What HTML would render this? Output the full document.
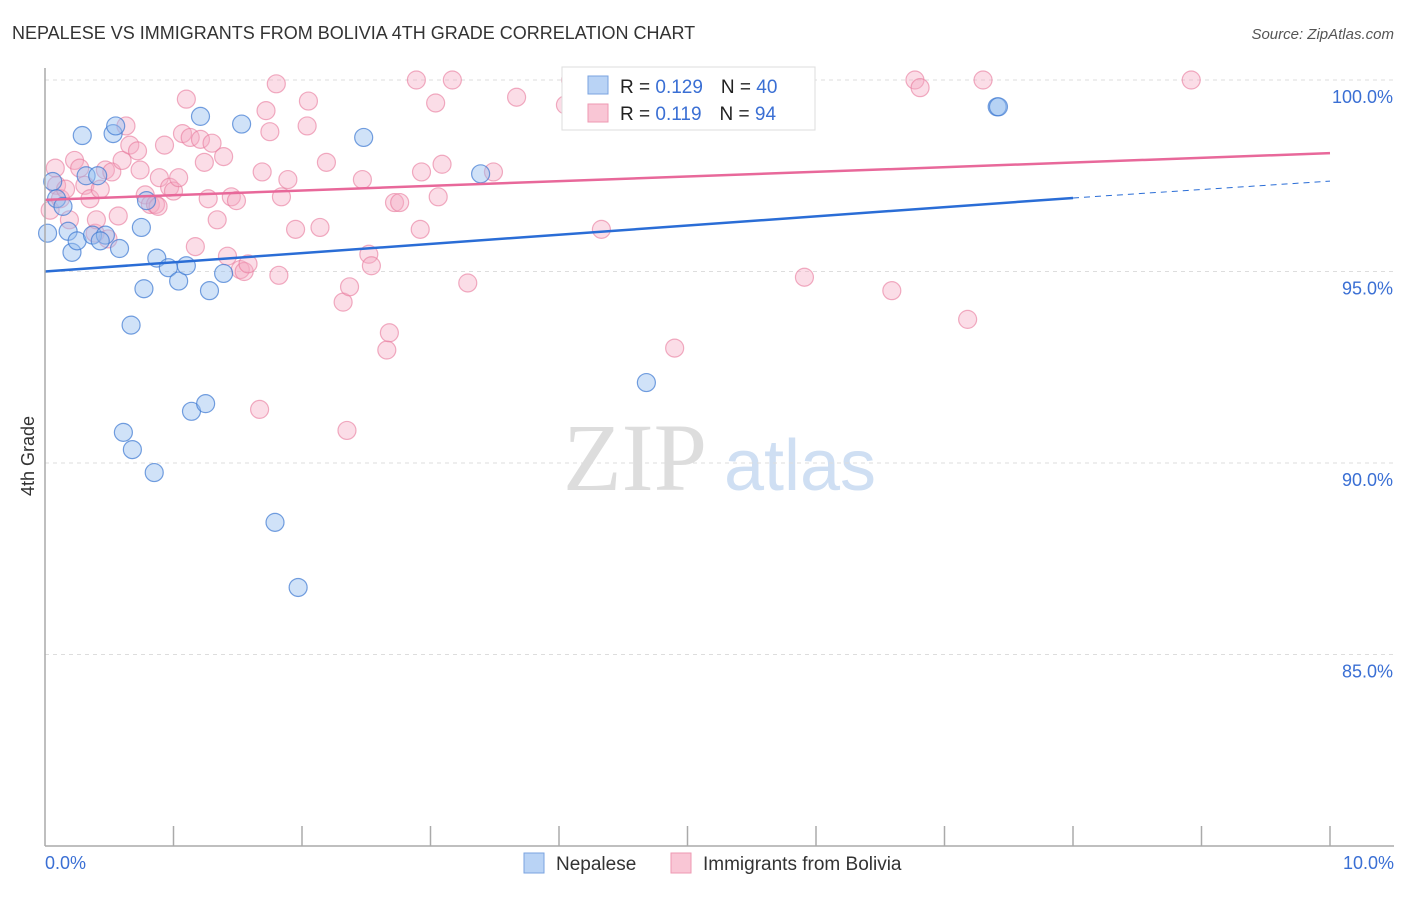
<!DOCTYPE html>
<html><head><meta charset="utf-8"><style>
body{margin:0;background:#fff;font-family:"Liberation Sans",sans-serif;}
#c{position:relative;width:1406px;height:892px;}
</style></head><body>
<div id="c">
<svg id="s" width="1406" height="892">
<text x="12" y="39" font-size="18" fill="#333">NEPALESE VS IMMIGRANTS FROM BOLIVIA 4TH GRADE CORRELATION CHART</text>
<text x="1394" y="39" font-size="15" fill="#555" text-anchor="end" font-style="italic">Source: ZipAtlas.com</text>
<text x="34" y="456" font-size="18" fill="#333" text-anchor="middle" transform="rotate(-90 34 456)">4th Grade</text>
<text x="635" y="490" font-size="96" fill="#ddd" font-family="Liberation Serif" text-anchor="middle">ZIP</text>
<text x="800" y="490" font-size="72" fill="#cfdff3" text-anchor="middle">atlas</text>
<g id="grid"></g><g id="pts"></g><g id="lines"></g>
<line x1="45" y1="68" x2="45" y2="846" stroke="#aaa" stroke-width="1.5"/>
<line x1="45" y1="846" x2="1394" y2="846" stroke="#aaa" stroke-width="1.5"/>
<g id="xt"></g>
<text x="45" y="869" font-size="18" fill="#3a6fd4">0.0%</text>
<text x="1394" y="869" font-size="18" fill="#3a6fd4" text-anchor="end">10.0%</text>
<g>
<rect x="562" y="67" width="253" height="63" fill="#fff" stroke="#ddd"/>
<rect x="588" y="76" width="20" height="18" fill="#b9d3f5" stroke="#7aa3e0"/>
<rect x="588" y="104" width="20" height="18" fill="#f9c6d5" stroke="#ee98b2"/>
<text x="620" y="93" font-size="19" fill="#222">R = <tspan fill="#3a6fd4">0.129</tspan><tspan dx="18">N = </tspan><tspan fill="#3a6fd4">40</tspan></text>
<text x="620" y="120" font-size="19" fill="#222">R = <tspan fill="#3a6fd4"> 0.119</tspan><tspan dx="18">N = </tspan><tspan fill="#3a6fd4">94</tspan></text>
</g>
<g>
<rect x="524" y="853" width="20" height="20" fill="#b9d3f5" stroke="#7aa3e0"/>
<text x="556" y="870" font-size="19" fill="#333">Nepalese</text>
<rect x="671" y="853" width="20" height="20" fill="#f9c6d5" stroke="#ee98b2"/>
<text x="703" y="870" font-size="19" fill="#333">Immigrants from Bolivia</text>
</g>
</svg></div>
<script>
const yTicks=[100,95,90,85];
const yTickLabels=["100.0%","95.0%","90.0%","85.0%"];
const xTicks=[1,2,3,4,5,6,7,8,9,10];
const blueX=[0.02,0.06,0.09,0.14,0.18,0.21,0.25,0.29,0.32,0.37,0.41,0.47,0.43,0.53,0.55,0.58,0.67,0.61,0.68,0.75,0.77,0.79,0.85,0.87,0.96,1.04,1.1,1.14,1.21,1.25,1.28,1.39,1.53,1.79,1.97,2.48,3.39,4.68,7.41,7.42];
const blueY=[96.0,97.35,96.9,96.7,96.05,95.5,95.8,98.55,97.5,95.95,97.5,95.95,95.8,98.6,98.8,95.6,93.6,90.8,90.35,96.15,94.55,96.85,89.75,95.35,95.1,94.75,95.15,91.35,99.05,91.55,94.5,94.95,98.85,88.45,86.75,98.5,97.55,92.1,99.3,99.3];
const pinkX=[0.04,0.08,0.09,0.12,0.16,0.19,0.23,0.27,0.31,0.35,0.39,0.4,0.43,0.47,0.49,0.52,0.57,0.6,0.63,0.66,0.72,0.74,0.78,0.82,0.86,0.88,0.89,0.93,0.97,1.0,1.04,1.07,1.1,1.13,1.17,1.21,1.24,1.27,1.3,1.34,1.39,1.42,1.45,1.49,1.52,1.55,1.58,1.67,1.69,1.72,1.75,1.8,1.82,1.84,1.89,1.95,2.05,2.04,2.14,2.19,2.32,2.35,2.37,2.47,2.52,2.54,2.66,2.68,2.72,2.76,2.89,2.92,2.93,3.04,3.06,3.09,3.17,3.29,3.49,3.67,4.05,4.09,4.33,4.9,5.0,5.91,6.59,6.77,6.81,7.18,7.3,8.92,5.56];
const pinkY=[96.6,97.7,97.25,96.9,97.15,96.35,97.9,97.7,97.25,96.9,96.0,96.35,97.15,97.65,95.85,97.6,96.45,97.9,98.8,98.3,98.15,97.65,97.0,96.75,96.75,96.7,97.45,98.3,97.2,97.1,97.45,98.6,99.5,98.5,95.65,98.45,97.85,96.9,98.35,96.35,98.0,95.4,96.95,96.85,95.05,95.0,95.2,91.4,97.6,99.2,98.65,99.9,94.9,96.95,97.4,96.1,99.45,98.8,96.15,97.85,94.2,90.85,94.6,97.4,95.45,95.15,92.95,93.4,96.8,96.8,100,96.1,97.6,99.4,96.95,97.8,100,94.7,97.6,99.55,99.35,100,96.1,93.0,100,94.85,94.5,100,99.8,93.75,100,100,100];
const blueLine=[95.0,96.92,97.36];const blueLineX=[0,8,10];
const pinkLine=[96.87,98.09];const pinkLineX=[0,10];
const NS="http://www.w3.org/2000/svg";
const X=v=>45+v*128.5, Y=v=>80+(100-v)*38.3;
function mk(t,a,p){const e=document.createElementNS(NS,t);for(const k in a)e.setAttribute(k,a[k]);document.getElementById(p).appendChild(e);return e;}
yTicks.forEach((t,i)=>{
 const l=mk('line',{x1:45,x2:1394,y1:Y(t),y2:Y(t),stroke:'#ddd','stroke-dasharray':'4,4'},'grid');
 
 
 const tx=mk('text',{x:1393,y:Y(t)+23,'font-size':18,fill:'#3a6fd4','text-anchor':'end'},'grid');
 tx.textContent=yTickLabels[i];
 
 
});
xTicks.forEach(t=>{
 const l=mk('line',{x1:X(t),x2:X(t),y1:826,y2:846,stroke:'#aaa','stroke-width':1.5},'xt');
 
 
});
pinkX.forEach((x,i)=>{
 const c=mk('circle',{cx:X(x),cy:Y(pinkY[i]),r:9,fill:'rgba(246,170,194,0.4)',stroke:'rgba(232,120,155,0.6)','stroke-width':1.2},'pts');
 
 
});
blueX.forEach((x,i)=>{
 const c=mk('circle',{cx:X(x),cy:Y(blueY[i]),r:9,fill:'rgba(150,190,240,0.45)',stroke:'rgba(60,120,210,0.7)','stroke-width':1.2},'pts');
 
 
});
let b1=mk('line',{x1:X(blueLineX[0]),y1:Y(blueLine[0]),x2:X(blueLineX[1]),y2:Y(blueLine[1]),stroke:'#2a6dd6','stroke-width':2.5},'lines');


let b2=mk('line',{x1:X(blueLineX[1]),y1:Y(blueLine[1]),x2:X(blueLineX[2]),y2:Y(blueLine[2]),stroke:'#2a6dd6','stroke-width':1,'stroke-dasharray':'6,5'},'lines');


let p1=mk('line',{x1:X(pinkLineX[0]),y1:Y(pinkLine[0]),x2:X(pinkLineX[1]),y2:Y(pinkLine[1]),stroke:'#e8689a','stroke-width':2.5},'lines');


</script>
</body></html>
